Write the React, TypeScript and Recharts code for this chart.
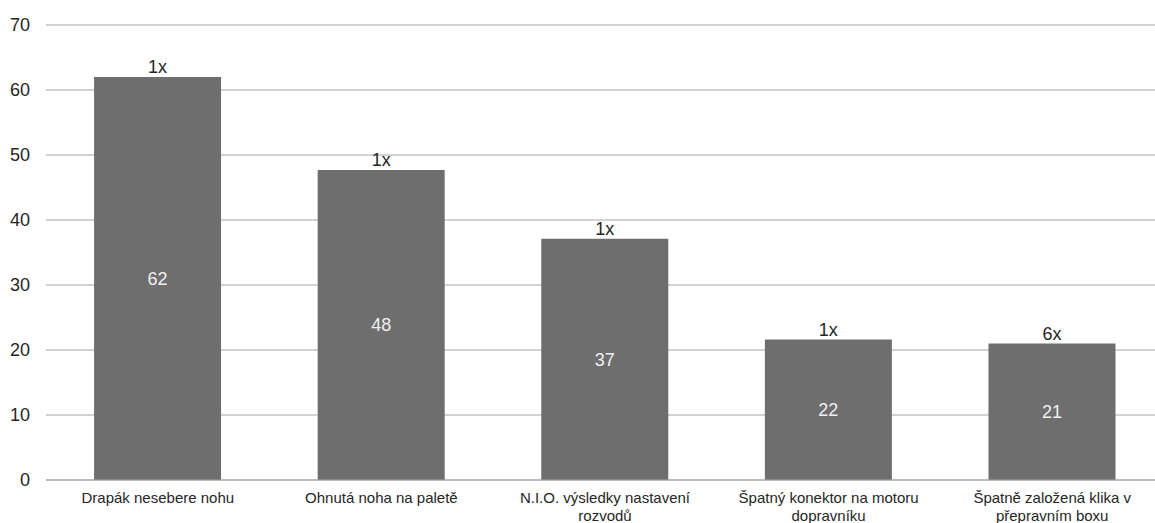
import React from "react";
import { BarChart, Bar, XAxis, YAxis, CartesianGrid, LabelList, Text } from "recharts";

const categories = [
  "Drapák nesebere nohu",
  "Ohnutá noha na paletě",
  "N.I.O. výsledky nastavení rozvodů",
  "Špatný konektor na motoru dopravníku",
  "Špatně založená klika v přepravním boxu",
];
const values = [62, 47.7, 37.1, 21.6, 21.0];
const valueLabels = ["62", "48", "37", "22", "21"];
const countLabels = ["1x", "1x", "1x", "1x", "6x"];
const yTicks = [0, 10, 20, 30, 40, 50, 60, 70];

const data = categories.map((c, i) => ({
  name: c,
  value: values[i],
  inner: valueLabels[i],
  count: countLabels[i],
}));

const FONT = "'Liberation Sans', Arial, sans-serif";

const XTick = (props: any) => {
  const { x, y, payload } = props;
  return (
    <Text
      x={x}
      y={y}
      width={200}
      textAnchor="middle"
      verticalAnchor="start"
      fontSize={15}
      fontFamily={FONT}
      fill="#262626"
      lineHeight={18}
    >
      {payload.value}
    </Text>
  );
};

export default function App() {
  return (
    <div
      style={{
        position: "absolute",
        left: 0,
        top: 0,
        width: 1155,
        height: 523,
        overflow: "hidden",
        background: "#fff",
      }}
    >
      <BarChart
        width={1164}
        height={523}
        data={data}
        margin={{ top: 25, right: 0, bottom: 0, left: 0 }}
        barCategoryGap="21.5%"
      >
        <CartesianGrid vertical={false} stroke="#a6a6a6" />
        <XAxis
          dataKey="name"
          height={43}
          tickLine={false}
          axisLine={{ stroke: "#a6a6a6" }}
          tick={<XTick />}
          tickMargin={6}
          interval={0}
        />
        <YAxis
          width={46}
          domain={[0, 70]}
          ticks={yTicks}
          axisLine={false}
          tickLine={false}
          tickMargin={10}
          tick={{ fontSize: 18, fill: "#262626", fontFamily: FONT }}
        />
        <Bar dataKey="value" fill="#6e6e6e" isAnimationActive={false}>
          <LabelList
            dataKey="inner"
            position="center"
            fill="#f0f0f0"
            fontSize={18}
            fontFamily={FONT}
          />
          <LabelList
            dataKey="count"
            position="top"
            offset={4}
            fill="#262626"
            fontSize={18}
            fontFamily={FONT}
          />
        </Bar>
      </BarChart>
    </div>
  );
}
